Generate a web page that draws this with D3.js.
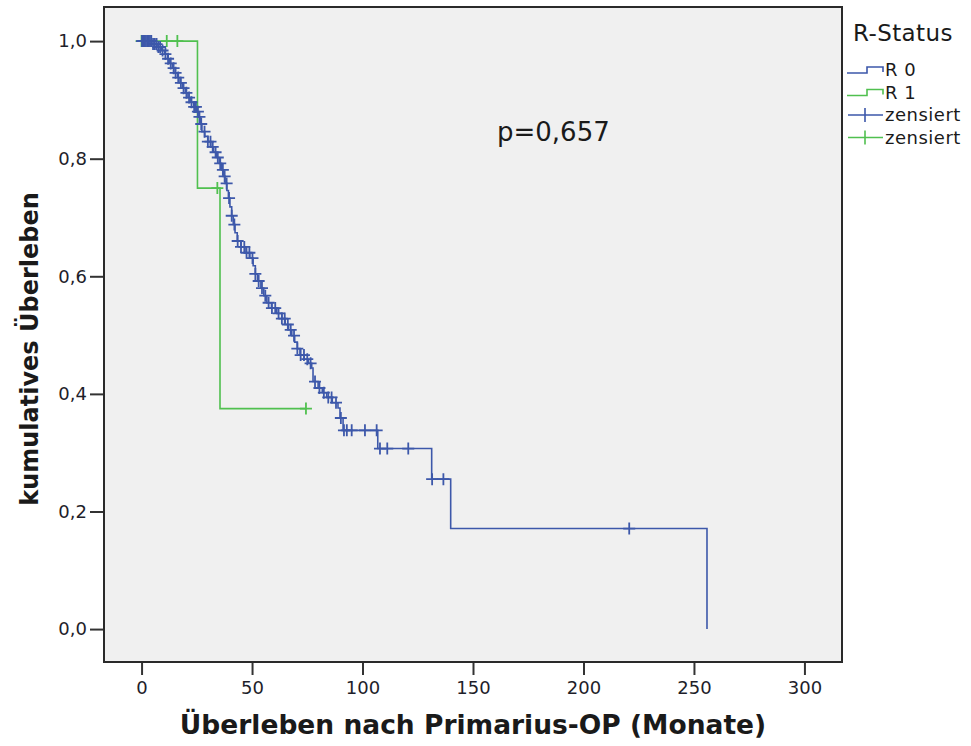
<!DOCTYPE html>
<meta charset="utf-8">
<style>
body { margin: 0; background-color: #fff; }
svg { font-family: "DejaVu Sans", "Open Sans", sans-serif; }
.axis path { display: none; }
.axis line { stroke: #333; stroke-width: 2px; }
.axis text { fill: #1e1e2a; font-size: 18px; font-family: "DejaVu Sans", sans-serif; }
</style>
<body>
<script src="https://d3js.org/d3.v7.min.js"></script>
<script>

// R 0 : step curve (months, survival after the step)
var r0Times = [0, 4.5, 7.0, 9.0, 10.5, 11.8, 12.8, 14.0, 15.2, 16.3, 17.4, 18.6, 19.8, 21.0, 22.3, 23.6,
  25.0, 26.0, 26.8, 27.3, 28.6, 30.0, 31.3, 32.6, 34.0, 35.2, 36.2, 37.0, 37.8, 38.6, 39.3, 40.0,
  40.8, 41.5, 42.3, 43.3, 45.0, 46.8, 49.0, 50.5, 51.5, 52.5, 54.0, 55.3, 56.7, 58.8, 61.2, 63.5,
  65.0, 66.5, 68.0, 69.3, 70.5, 71.7, 73.6, 75.5, 77.0, 77.6, 79.9, 81.8, 83.8, 86.3, 88.9, 89.8,
  91.2, 106.9, 131.3, 139.9, 255.9];
var r0Surv = [1.0, 0.995, 0.990, 0.984, 0.978, 0.970, 0.962, 0.954, 0.946, 0.938, 0.929, 0.920, 0.912, 0.904, 0.896, 0.888,
  0.880, 0.871, 0.859, 0.846, 0.838, 0.829, 0.820, 0.811, 0.802, 0.792, 0.781, 0.770, 0.758, 0.746, 0.733, 0.718,
  0.703, 0.688, 0.674, 0.660, 0.650, 0.640, 0.631, 0.618, 0.604, 0.592, 0.580, 0.567, 0.555, 0.546, 0.537, 0.528,
  0.518, 0.509, 0.499, 0.488, 0.477, 0.466, 0.459, 0.452, 0.444, 0.421, 0.410, 0.402, 0.394, 0.385, 0.376, 0.359,
  0.338, 0.307, 0.255, 0.171, 0.0];
var r0Censored = [0.2, 0.6, 1.0, 1.5, 2.0, 2.6, 3.2, 3.8, 4.4, 5.2, 6.0, 6.8, 7.6, 8.4, 9.5, 10.8, 12.0, 13.2,
  14.5, 15.4, 16.6, 17.8, 19.0, 20.3, 21.5, 22.6, 23.8, 24.6, 25.5, 26.2, 27.0, 28.5, 30.0, 31.2, 32.2,
  33.5, 34.5, 35.6, 36.8, 37.6, 38.5, 39.6, 40.8, 42.0, 43.5, 45.0, 46.5, 47.5, 48.8, 50.2, 51.5, 53.0,
  54.5, 56.0, 57.5, 59.0, 60.5, 62.0, 63.5, 64.8, 66.2, 67.5, 69.0, 70.5, 72.0, 73.5, 75.0, 76.5, 78.5,
  80.5, 82.5, 84.5, 86.0, 88.0, 90.2, 91.6, 92.9, 95.1, 101.1, 106.4, 107.9, 111.2, 120.7, 131.5, 136.6, 220.7];

// R 1
var r1Times = [0, 25.3, 35.5];
var r1Surv = [1.0, 0.75, 0.375];
var r1Censored = [0, 11.4, 16.2, 34.3, 74.4];

var xTicks = [0, 50, 100, 150, 200, 250, 300];
var yTicks = [0, 0.2, 0.4, 0.6, 0.8, 1.0];

var blue = "#3d58aa", green = "#50c04f";

var svg = d3.select("body").append("svg")
    .attr("width", 971)
    .attr("height", 746);

var box = {left: 104, right: 842, top: 7, bottom: 662};

var x = d3.scaleLinear().domain([-17, 317]).range([box.left, box.right]);
var y = d3.scaleLinear().domain([-0.056, 1.058]).range([box.bottom, box.top]);

// plot area
svg.append("rect")
    .attr("x", box.left).attr("y", box.top)
    .attr("width", box.right - box.left).attr("height", box.bottom - box.top)
    .style("fill", "#f0f0f0")
    .style("stroke", "#2a2a2a")
    .style("stroke-width", 2);

var fmt = function(d) { return d3.format(".1f")(d).replace(".", ","); };

svg.append("g")
    .attr("class", "axis")
    .attr("transform", "translate(0," + (box.bottom + 1) + ")")
    .call(d3.axisBottom(x).tickValues(xTicks).tickSize(12).tickPadding(6));

svg.append("g")
    .attr("class", "axis")
    .attr("transform", "translate(" + (box.left - 1) + ",0)")
    .call(d3.axisLeft(y).tickValues(yTicks).tickFormat(fmt).tickSize(13).tickPadding(3));

// step function helpers
function stepPoints(times, surv, end) {
  var pts = [];
  times.forEach(function(t, i) {
    if (i > 0) pts.push([t, surv[i - 1]]);
    pts.push([t, surv[i]]);
  });
  if (end != null) pts.push([end, surv[surv.length - 1]]);
  return pts;
}
function survAt(times, surv, t) {
  var s = surv[0];
  for (var i = 0; i < times.length; i++) if (times[i] <= t) s = surv[i];
  return s;
}

var line = d3.line()
    .x(function(d) { return x(d[0]); })
    .y(function(d) { return y(d[1]); });

function drawGroup(times, surv, cens, end, color) {
  svg.append("path")
      .datum(stepPoints(times, surv, end))
      .attr("d", line)
      .style("fill", "none")
      .style("stroke", color)
      .style("stroke-width", 1.6);

  svg.selectAll(null)
      .data(cens)
      .enter().append("path")
      .attr("d", function(t) {
        var cx = x(t), cy = y(survAt(times, surv, t));
        return "M" + (cx - 6) + "," + cy + "H" + (cx + 6) + "M" + cx + "," + (cy - 6) + "V" + (cy + 6);
      })
      .style("fill", "none")
      .style("stroke", color)
      .style("stroke-width", 1.8);
}

drawGroup(r1Times, r1Surv, r1Censored, 74.4, green);
drawGroup(r0Times, r0Surv, r0Censored, null, blue);

// p-value
svg.append("text")
    .attr("x", 497).attr("y", 141)
    .style("font-size", "26px")
    .style("fill", "#1a1a1a")
    .text("p=0,657");

// axis titles
svg.append("text")
    .attr("x", 473).attr("y", 734)
    .attr("text-anchor", "middle")
    .style("font-size", "26.5px")
    .style("font-weight", "bold")
    .style("fill", "#1a1a1a")
    .text("Überleben nach Primarius-OP (Monate)");

svg.append("text")
    .attr("transform", "translate(38,349)rotate(-90)")
    .attr("text-anchor", "middle")
    .style("font-size", "24px")
    .style("font-weight", "bold")
    .style("fill", "#1a1a1a")
    .text("kumulatives Überleben");

// legend
var legend = svg.append("g");
legend.append("text")
    .attr("x", 853).attr("y", 41)
    .style("font-size", "23px")
    .style("letter-spacing", "0.4px")
    .style("fill", "#1a1a1a")
    .text("R-Status");

var legendItems = [
  {label: "R 0", color: blue, type: "step"},
  {label: "R 1", color: green, type: "step"},
  {label: "zensiert", color: blue, type: "cross"},
  {label: "zensiert", color: green, type: "cross"}
];

legendItems.forEach(function(d, i) {
  var cy = 70 + i * 22.5;
  var path;
  if (d.type == "step") {
    path = "M847," + (cy + 3) + "H867V" + (cy - 3) + "H883V" + (cy + 2);
  } else {
    path = "M848," + cy + "H883M865," + (cy - 7) + "V" + (cy + 7);
  }
  legend.append("path")
      .attr("d", path)
      .style("fill", "none")
      .style("stroke", d.color)
      .style("stroke-width", 1.6);
  legend.append("text")
      .attr("x", 885).attr("y", cy + 6)
      .style("font-size", "18px")
      .style("letter-spacing", "0.5px")
      .style("fill", "#1a1a1a")
      .text(d.label);
});

</script>
</body>
